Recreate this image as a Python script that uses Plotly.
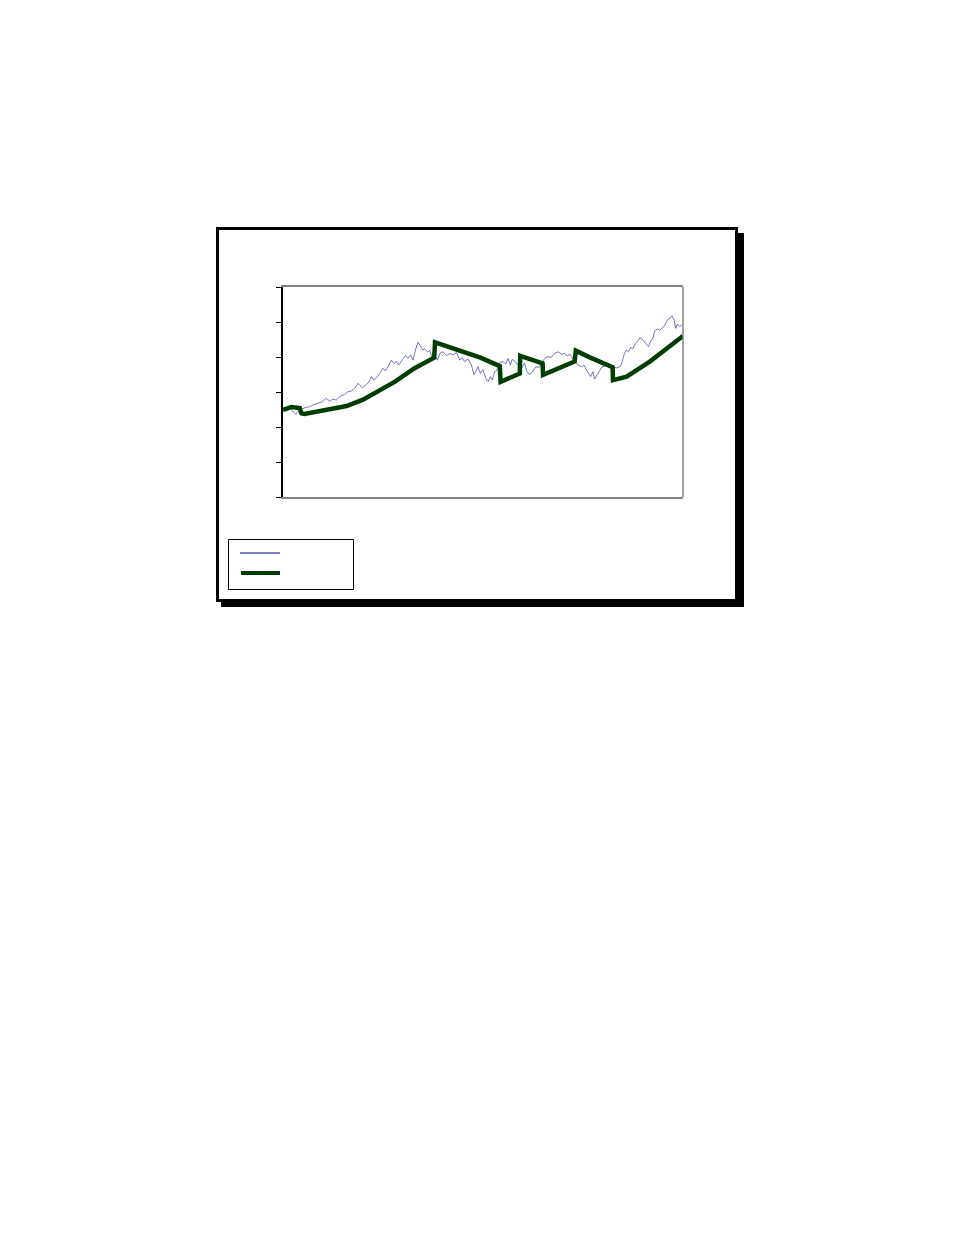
import plotly.graph_objects as go

# ---- data (y in axis units 0..6, x in % of span) ----
blue_x = [0, 1.7, 2.5, 3.2, 3.75, 5.4, 6.7, 7.5, 8.75, 9.8, 10.8, 11.7, 12.5, 13.3, 14.2, 15.4,
          16.25, 17.1, 17.9, 18.75, 19.2, 19.85, 20.7, 21.5, 22.1, 22.7, 23.3, 24.2, 25, 25.6,
          26.25, 27.1, 27.75, 28.35, 28.9, 29.6, 30.6, 31.25, 31.9, 32.5, 33.1, 33.75, 34.4, 35,
          35.4, 36.1, 36.7, 37.25, 37.9, 38.6, 39.2, 40, 40.85, 41.7, 42.5, 43.35, 44.2, 44.75,
          45.4, 46.25, 47.1, 47.75, 48.2, 48.75, 49.35, 50, 50.7, 51.25, 51.85, 52.35, 52.9, 53.5,
          54.2, 55, 55.7, 56.25, 56.85, 57.3, 57.9, 58.8, 59.6, 60.4, 61, 61.7, 62.35, 63.2, 64,
          64.7, 65.4, 66.25, 67.1, 67.9, 68.75, 69.6, 70.4, 71, 71.7, 72.35, 72.9, 73.6, 74.6,
          75.25, 75.85, 76.4, 76.9, 77.5, 77.9, 78.6, 79.2, 79.75, 80.4, 81.1, 81.9, 82.5, 83.35,
          84.2, 84.6, 85.25, 85.85, 86.4, 86.9, 87.5, 88.1, 88.75, 89.2, 89.6, 90.3, 90.85, 91.4,
          91.9, 92.5, 92.9, 93.6, 94.2, 94.75, 95.4, 96.1, 96.7, 97.25, 97.75, 98.2, 98.6, 99.2,
          99.75]
blue_y = [2.55, 2.55, 2.44, 2.36, 2.44, 2.55, 2.58, 2.63, 2.68, 2.72, 2.82, 2.74, 2.8, 2.77, 2.87,
          2.93, 3.01, 3.03, 3.1, 3.25, 3.19, 3.12, 3.2, 3.29, 3.44, 3.34, 3.41, 3.53, 3.68, 3.6,
          3.72, 3.91, 3.82, 3.87, 3.77, 3.89, 4.04, 3.96, 4.06, 3.91, 4.2, 4.42, 4.29, 4.2, 4.24,
          4.15, 4.19, 3.98, 4.06, 3.91, 4.1, 4.15, 4.04, 4.1, 4.06, 4.13, 3.91, 3.98, 3.87, 3.94,
          3.77, 3.49, 3.58, 3.72, 3.53, 3.64, 3.39, 3.3, 3.44, 3.34, 3.58, 3.63, 3.84, 3.87, 3.8,
          3.96, 3.77, 3.93, 3.89, 3.75, 3.68, 3.82, 3.58, 3.49, 3.58, 3.72, 3.7, 3.85, 3.96, 4.01,
          3.99, 4.1, 4.15, 4.08, 4.1, 4.03, 4.08, 3.96, 3.87, 3.79, 3.72, 3.77, 3.63, 3.53, 3.44,
          3.58, 3.37, 3.5, 3.63, 3.72, 3.74, 3.77, 3.75, 3.72, 3.69, 3.72, 3.79, 4.06, 4.2, 4.15,
          4.27, 4.24, 4.39, 4.46, 4.55, 4.54, 4.42, 4.36, 4.3, 4.45, 4.54, 4.74, 4.8, 4.77, 4.83,
          4.89, 5.06, 5.1, 5.18, 5.06, 4.82, 4.94, 4.87, 4.93]

green_x = [0, 2.1, 4.2, 4.6, 5.4, 11.7, 15.9, 20, 24, 27.9, 32.9, 37.8, 38.0, 43.4, 49.2, 54.2,
           54.4, 59.2, 59.3, 64.9, 65.0, 72.9, 73.2, 76.7, 82.4, 82.5, 85.9, 91.7, 100]
green_y = [2.49, 2.57, 2.54, 2.39, 2.37, 2.5, 2.6, 2.78, 3.04, 3.29, 3.68, 3.98, 4.42, 4.2, 3.99,
           3.74, 3.29, 3.53, 4.03, 3.82, 3.49, 3.87, 4.18, 3.99, 3.71, 3.34, 3.44, 3.87, 4.6]

y_ticks = [0, 1, 2, 3, 4, 5, 6]

# ---- layout geometry (page pixels; page body adds an 8px offset) ----
OFF = 8
W, H = 954 - 2 * OFF, 1235 - 2 * OFF
PX0, PX1, PY0, PY1 = 283 - OFF, 683 - OFF, 287 - OFF, 497 - OFF


def px(x):
    return (x - OFF - PX0) / (PX1 - PX0)


def py(y):
    return (PY1 - (y - OFF)) / (PY1 - PY0)


fig = go.Figure()
fig.add_trace(go.Scatter(x=blue_x, y=blue_y, mode="lines",
                         line=dict(color="#3a3ab4", width=0.7), showlegend=False,
                         hoverinfo="skip"))
fig.add_trace(go.Scatter(x=green_x, y=green_y, mode="lines",
                         line=dict(color="#003d00", width=4.5), showlegend=False,
                         hoverinfo="skip"))

shapes = [
    # shadow
    dict(type="rect", xref="paper", yref="paper", x0=px(221), x1=px(744), y0=py(233), y1=py(607),
         fillcolor="black", line=dict(width=0), layer="below"),
    # frame
    dict(type="rect", xref="paper", yref="paper", x0=px(217.5), x1=px(736.5), y0=py(228.5), y1=py(600.5),
         fillcolor="white", line=dict(color="black", width=3), layer="below"),
    # right border of plot area (grey)
    dict(type="line", xref="paper", yref="paper", x0=1, x1=1, y0=0, y1=1,
         line=dict(color="#808080", width=1.5)),
    # legend box
    dict(type="rect", xref="paper", yref="paper", x0=px(228.5), x1=px(353.5), y0=py(539.5), y1=py(589.5),
         fillcolor="white", line=dict(color="black", width=1)),
    dict(type="line", xref="paper", yref="paper", x0=px(240), x1=px(280), y0=py(553), y1=py(553),
         line=dict(color="#000080", width=1)),
    dict(type="line", xref="paper", yref="paper", x0=px(241), x1=px(280), y0=py(573), y1=py(573),
         line=dict(color="#003d00", width=4)),
]

fig.update_layout(
    width=W, height=H, autosize=False,
    margin=dict(l=PX0, r=W - PX1, t=PY0, b=H - PY1, pad=0),
    paper_bgcolor="white", plot_bgcolor="rgba(0,0,0,0)",
    shapes=shapes,
    xaxis=dict(range=[0, 100], showgrid=False, zeroline=False, showticklabels=False,
               ticks="", showline=True, linecolor="#808080", linewidth=1.5, mirror=True),
    yaxis=dict(range=[0, 6], showgrid=False, zeroline=False, showticklabels=False,
               tickvals=y_ticks, ticks="outside", ticklen=5, tickcolor="black", tickwidth=1,
               showline=True, linecolor="black", linewidth=1.5),
)

fig.write_html("out.html")
